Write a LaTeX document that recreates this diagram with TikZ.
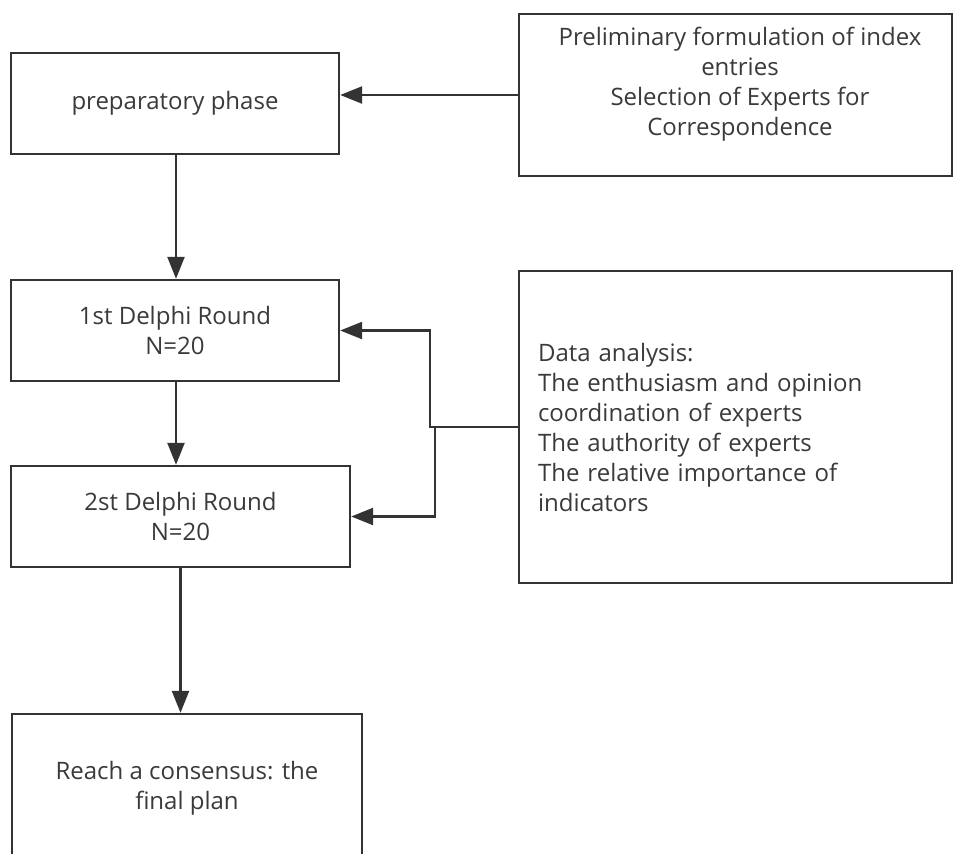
\documentclass[tikz,border=0pt]{standalone}
\usepackage{fontspec}
\setmainfont{Open Sans}
\usetikzlibrary{arrows.meta,calc}
\definecolor{ln}{HTML}{333333}
\definecolor{tx}{HTML}{3A3A3A}
\begin{document}
\begin{tikzpicture}[x=1pt,y=-1pt,
  box/.style={draw=ln,line width=2.4pt,fill=white,inner sep=0pt,text=tx,font=\fontsize{24}{30}\selectfont,align=center},
  arr/.style={draw=ln,line width=2.4pt,-{Triangle[length=22pt,width=17pt]}},
  lnk/.style={draw=ln,line width=2.4pt}]
\useasboundingbox (0,0) rectangle (954,854);
\clip (0,0) rectangle (954,854);
\fill[white] (0,0) rectangle (954,854);
\node[box,minimum width=328pt,minimum height=101pt] (prep) at (175,103.5) {preparatory phase};
\node[box,minimum width=433pt,minimum height=162pt] (prelim) at (735.5,95) {};
\node[text=tx,font=\fontsize{24}{30}\selectfont,align=center,inner sep=0pt] (prelimtxt) at (740,84)
  {Preliminary formulation of index\\entries\\Selection of Experts for\\Correspondence};
\node[box,minimum width=328pt,minimum height=101pt] (r1) at (175,330.5) {1st Delphi Round\\N=20};
\node[box,minimum width=339pt,minimum height=101pt] (r2) at (180.5,516.5) {2st Delphi Round\\N=20};
\node[box,minimum width=433pt,minimum height=312pt,text width=395pt,inner xsep=19pt,align=left] (data) at (735.5,427)
  {Data analysis:\\The enthusiasm and opinion\\coordination of experts\\The authority of experts\\The relative importance of\\indicators};
\node[box,minimum width=350pt,minimum height=148pt] (final) at (187,788) {Reach a consensus: the\\final plan};
\coordinate (ja) at (430,0);
\coordinate (jb) at (435,0);
\draw[arr] (prelim.west) -- (prelim.west -| prep.east);
\draw[arr] ([xshift=1pt]prep.south) -- ([xshift=1pt]prep.south |- r1.north);
\draw[arr] ([xshift=1pt]r1.south) -- ([xshift=1pt]r1.south |- r2.north);
\draw[arr] (r2.south) -- (r2.south |- final.north);
\draw[arr] (data.west) -| (ja |- r1.east) -- (r1.east);
\draw[arr] (data.west -| jb) |- (r2.east);
\end{tikzpicture}
\end{document}
